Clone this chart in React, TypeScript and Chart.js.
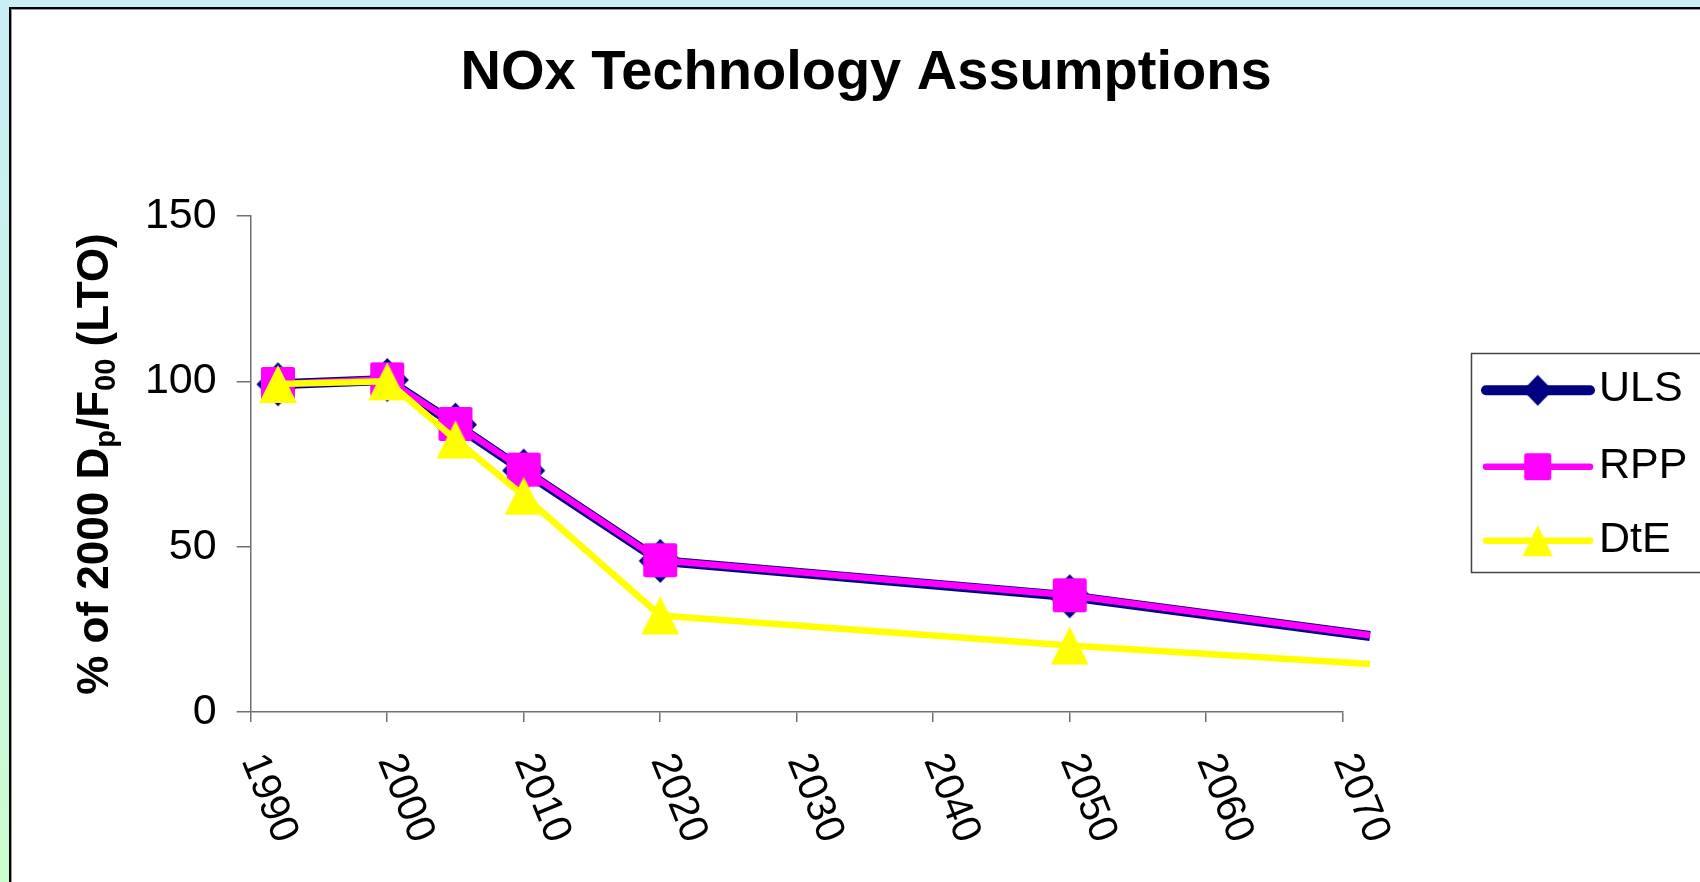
import React, { useEffect, useRef } from 'react';
import { Chart, registerables } from 'chart.js';

Chart.register(...registerables);

const TITLE = 'NOx Technology Assumptions';
const YEARS = [1992, 2000, 2005, 2010, 2020, 2050, 2072];
const ULS = [99.1, 100.4, 86.9, 73.0, 45.7, 35.0, 23.0];
const RPP = [99.2, 100.6, 87.1, 73.3, 45.9, 35.3, 23.2];
const DTE = [99.2, 100.0, 82.4, 65.4, 29.2, 20.1, 14.5];
const SERIES_LABELS = ['ULS', 'RPP', 'DtE'];
const X_TICKS = [1990, 2000, 2010, 2020, 2030, 2040, 2050, 2060, 2070];
const Y_TICKS = [0, 50, 100, 150];
const Y_TITLE_PARTS: [string, boolean][] = [
  ['% of 2000 D', false],
  ['p', true],
  ['/F', false],
  ['00', true],
  [' (LTO)', false],
];

const FONT = '"Liberation Sans", Arial, Helvetica, sans-serif';

function makeMarker(shape: string, color: string, w: number, h: number) {
  const c = document.createElement('canvas');
  c.width = Math.ceil(w) + 2;
  c.height = Math.ceil(h) + 2;
  const g = c.getContext('2d')!;
  const cx = c.width / 2;
  const cy = c.height / 2;
  g.fillStyle = color;
  g.beginPath();
  if (shape === 'diamond') {
    g.moveTo(cx, cy - h / 2);
    g.lineTo(cx + w / 2, cy);
    g.lineTo(cx, cy + h / 2);
    g.lineTo(cx - w / 2, cy);
  } else if (shape === 'square') {
    (g as any).roundRect(cx - w / 2, cy - h / 2, w, h, 2);
  } else {
    g.moveTo(cx, cy - h / 2);
    g.lineTo(cx + w / 2, cy + h / 2);
    g.lineTo(cx - w / 2, cy + h / 2);
  }
  g.closePath();
  g.fill();
  return c;
}

export default function App() {
  const canvasRef = useRef<HTMLCanvasElement | null>(null);

  useEffect(() => {
    document.body.style.margin = '0';
    const canvas = canvasRef.current;
    if (!canvas) return;

    const colors = ['#000080', '#FF00FF', '#FFFF00'];
    const widths = [10, 6.5, 6.5];
    const chartMarkers = [
      makeMarker('diamond', colors[0], 43, 44),
      makeMarker('square', colors[1], 34, 34),
      makeMarker('triangle', colors[2], 38, 38),
    ];
    const legendMarkers = [
      makeMarker('diamond', colors[0], 30, 31),
      makeMarker('square', colors[1], 27, 27),
      makeMarker('triangle', colors[2], 30, 31),
    ];
    const values = [ULS, RPP, DTE];
    const lastIdx = YEARS.length - 1;

    const datasets = SERIES_LABELS.map((label, i) => ({
      label,
      data: YEARS.map((x, j) => ({ x, y: values[i][j] })),
      borderColor: colors[i],
      backgroundColor: colors[i],
      borderWidth: widths[i],
      borderJoinStyle: 'round' as const,
      borderCapStyle: 'butt' as const,
      tension: 0,
      pointStyle: chartMarkers[i] as any,
      pointRadius: (c: any) => (c.dataIndex === lastIdx ? 0 : 10),
      pointHoverRadius: (c: any) => (c.dataIndex === lastIdx ? 0 : 10),
      clip: false as any,
      order: 3 - i,
    }));

    const decorPlugin = {
      id: 'decor',
      afterDraw(chart: any) {
        const ctx = chart.ctx as CanvasRenderingContext2D;
        const xs = chart.scales.x;
        const area = chart.chartArea;
        ctx.save();
        // rotated x tick labels (clockwise)
        ctx.fillStyle = '#000';
        ctx.font = `41px ${FONT}`;
        ctx.textAlign = 'left';
        ctx.textBaseline = 'middle';
        X_TICKS.forEach((v) => {
          const px = xs.getPixelForValue(v);
          ctx.save();
          ctx.translate(px + 1, area.bottom + 44);
          ctx.rotate((68 * Math.PI) / 180);
          ctx.fillText(String(v), 0, 0);
          ctx.restore();
        });

        // y axis title with subscripts
        const mainFont = `bold 44px ${FONT}`;
        const subFont = `bold 29px ${FONT}`;
        let total = 0;
        Y_TITLE_PARTS.forEach(([t, sub]) => {
          ctx.font = sub ? subFont : mainFont;
          total += ctx.measureText(t).width;
        });
        ctx.save();
        ctx.translate(108, (area.top + area.bottom) / 2);
        ctx.rotate(-Math.PI / 2);
        ctx.textAlign = 'left';
        ctx.textBaseline = 'alphabetic';
        let xpos = -total / 2;
        Y_TITLE_PARTS.forEach(([t, sub]) => {
          ctx.font = sub ? subFont : mainFont;
          ctx.fillText(t, xpos, sub ? 7 : 0);
          xpos += ctx.measureText(t).width;
        });
        ctx.restore();

        // legend
        const bx = 1471.5;
        const by = 353.5;
        const bh = 219;
        ctx.fillStyle = '#fff';
        ctx.fillRect(bx, by, 300, bh);
        ctx.strokeStyle = '#444';
        ctx.lineWidth = 1.5;
        ctx.strokeRect(bx, by, 300, bh);
        const rowY = [390.3, 466.7, 540.7];
        chart.data.datasets.forEach((ds: any, i: number) => {
          const y = rowY[i];
          ctx.strokeStyle = ds.borderColor;
          ctx.lineWidth = ds.borderWidth;
          ctx.lineCap = 'round';
          ctx.beginPath();
          ctx.moveTo(1486, y);
          ctx.lineTo(1590, y);
          ctx.stroke();
          const m = legendMarkers[i];
          ctx.drawImage(m, 1537.7 - m.width / 2, y - m.height / 2);
          ctx.fillStyle = '#000';
          ctx.font = `43px ${FONT}`;
          ctx.textAlign = 'left';
          ctx.textBaseline = 'middle';
          ctx.fillText(ds.label, 1599, y - 1);
        });
        ctx.restore();
      },
    };

    const chart = new Chart(canvas, {
      type: 'line',
      data: { datasets: datasets as any },
      plugins: [decorPlugin],
      options: {
        responsive: false,
        animation: false,
        layout: { padding: { left: 40, right: 8, top: 0, bottom: 0 } },
        plugins: {
          legend: { display: false },
          tooltip: { enabled: false },
          title: {
            display: true,
            text: TITLE,
            color: '#000',
            font: { family: FONT, size: 56, weight: 'bold', lineHeight: 1 },
            padding: { top: 45.5, bottom: 114.5 },
          },
        },
        scales: {
          x: {
            type: 'linear',
            min: X_TICKS[0],
            max: X_TICKS[X_TICKS.length - 1],
            afterBuildTicks: (s: any) => {
              s.ticks = X_TICKS.map((v) => ({ value: v }));
            },
            ticks: { display: false },
            grid: {
              display: true,
              drawOnChartArea: false,
              drawTicks: true,
              tickLength: 10,
              color: '#707070',
              lineWidth: 1.5,
            },
            border: { display: true, color: '#707070', width: 1.5 },
            afterFit: (s: any) => {
              s.height = 170;
            },
          },
          y: {
            type: 'linear',
            min: Y_TICKS[0],
            max: Y_TICKS[Y_TICKS.length - 1],
            afterBuildTicks: (s: any) => {
              s.ticks = Y_TICKS.map((v) => ({ value: v }));
            },
            ticks: {
              color: '#000',
              font: { family: FONT, size: 43 },
              padding: 20,
            },
            grid: {
              display: true,
              drawOnChartArea: false,
              drawTicks: true,
              tickLength: 14,
              color: '#707070',
              lineWidth: 1.5,
            },
            border: { display: true, color: '#707070', width: 1.5 },
            afterFit: (s: any) => {
              s.width = 210.7;
            },
          },
          y2: {
            type: 'linear',
            position: 'right',
            display: true,
            min: 0,
            max: 1,
            ticks: { display: false },
            grid: { display: false, drawTicks: false },
            border: { display: false },
            afterFit: (s: any) => {
              s.width = 349.3;
            },
          },
        },
      } as any,
    });

    return () => {
      chart.destroy();
    };
  }, []);

  return (
    <div
      style={{
        position: 'fixed',
        left: 0,
        top: 0,
        width: 1700,
        height: 882,
        overflow: 'hidden',
        background: 'linear-gradient(to bottom, #CAEDF6 0%, #CBF4E6 55%, #CCFDCC 100%)',
      }}
    >
      <div
        style={{
          position: 'absolute',
          left: 9,
          top: 7,
          width: 1720,
          height: 900,
          background: '#fff',
          borderLeft: '2px solid #000',
          borderTop: '2px solid #000',
          boxShadow: 'inset 1px 1px 0 #999',
        }}
      />
      <canvas
        ref={canvasRef}
        width={1700}
        height={882}
        style={{ position: 'absolute', left: 0, top: 0, width: 1700, height: 882 }}
      />
    </div>
  );
}
